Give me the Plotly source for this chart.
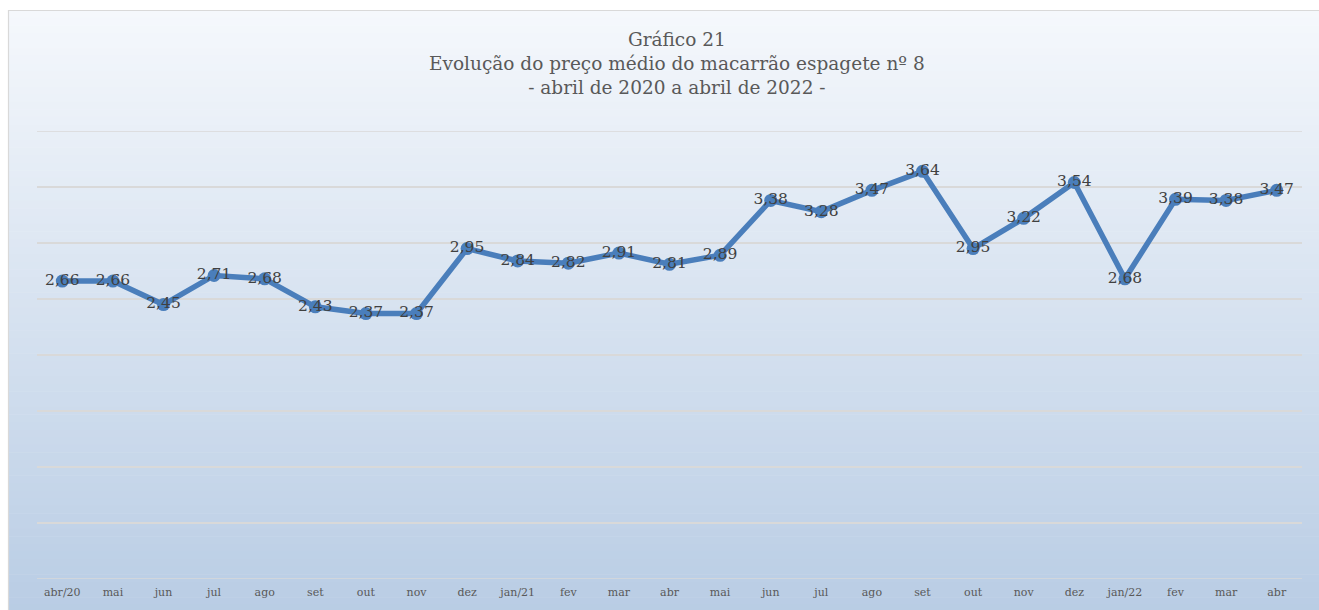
import plotly.graph_objects as go

categories = ["abr/20", "mai", "jun", "jul", "ago", "set", "out", "nov", "dez",
              "jan/21", "fev", "mar", "abr", "mai", "jun", "jul", "ago", "set",
              "out", "nov", "dez", "jan/22", "fev", "mar", "abr"]
prices = [2.66, 2.66, 2.45, 2.71, 2.68, 2.43, 2.37, 2.37, 2.95, 2.84, 2.82, 2.91,
          2.81, 2.89, 3.38, 3.28, 3.47, 3.64, 2.95, 3.22, 3.54, 2.68, 3.39, 3.38, 3.47]
grid_values = [0, 0.5, 1, 1.5, 2, 2.5, 3, 3.5, 4]
title_lines = ["Gráfico 21",
               "Evolução do preço médio do macarrão espagete nº 8",
               "- abril de 2020 a abril de 2022 -"]

OFF = 0  # body margin removed by post_script
W, H = 1319, 610
# plot area in page pixels: x 37..1302, y 131..579
L = 37 - OFF
T = 131 - OFF
R = W - (1302 - OFF)
B = H - (579 - OFF)
pw, ph = W - L - R, H - T - B

def px2x(px):
    return (px - OFF - L) / pw

def py2y(py):
    return (H - B - (py - OFF)) / ph

xs = list(range(len(categories)))
labels = [f"{v:.2f}".replace(".", ",") for v in prices]

fig = go.Figure()
fig.add_trace(go.Scatter(
    x=xs, y=prices, mode="lines+markers+text",
    line=dict(color="#4A7EBB", width=5.5),
    marker=dict(color="#4A7EBB", size=13),
    text=labels, textposition="middle center",
    textfont=dict(family="DejaVu Serif", size=15.5, color="#404040"),
    hoverinfo="skip", cliponaxis=False,
))

shapes = []
top_c = (0xF5, 0xF8, 0xFC)
bot_c = (0xB8, 0xCC, 0xE4)
y0p, y1p = 10, 620
n = 80
for i in range(n):
    a = y0p + (y1p - y0p) * i / n
    b = y0p + (y1p - y0p) * (i + 1) / n + 0.6
    t = (i + 0.5) / n
    c = tuple(round(top_c[k] + (bot_c[k] - top_c[k]) * t) for k in range(3))
    shapes.append(dict(type="rect", xref="paper", yref="paper",
                       x0=px2x(9), x1=px2x(1340), y0=py2y(a), y1=py2y(b),
                       fillcolor="rgb(%d,%d,%d)" % c, line=dict(width=0),
                       layer="below"))
shapes.append(dict(type="rect", xref="paper", yref="paper",
                   x0=px2x(8.5), x1=px2x(1340), y0=py2y(10.5), y1=py2y(630),
                   fillcolor="rgba(0,0,0,0)", line=dict(color="#D9D9D9", width=1.2),
                   layer="below"))
# boundary gridlines (plotly skips grid lines at the range edges)
for gv in (grid_values[0], grid_values[-1]):
    shapes.append(dict(type="line", xref="paper", yref="y", x0=0, x1=1,
                       y0=gv, y1=gv, line=dict(color="#D9D9D9", width=1.5),
                       layer="below"))

fig.update_layout(
    width=W, height=H,
    margin=dict(l=L, r=R, t=T, b=B),
    paper_bgcolor="white", plot_bgcolor="rgba(0,0,0,0)",
    showlegend=False,
    hovermode=False,
    shapes=shapes,
    xaxis=dict(range=[-0.5, len(categories) - 0.5], tickmode="array",
               tickvals=xs, ticktext=categories, showgrid=False,
               zeroline=False, showline=False, ticks="", ticklabelstandoff=5,
               tickfont=dict(family="DejaVu Serif", size=11, color="#595959"),
               fixedrange=True),
    yaxis=dict(range=[grid_values[0], grid_values[-1]], tickmode="array",
               tickvals=grid_values,
               showgrid=True, gridcolor="#D9D9D9",
               gridwidth=1.5, showticklabels=False, zeroline=False,
               showline=False, fixedrange=True),
    annotations=[dict(text="<br>".join(title_lines), xref="paper", yref="paper",
                      x=px2x(677), y=py2y(27.5), xanchor="center", yanchor="top",
                      showarrow=False, align="center",
                      font=dict(family="DejaVu Serif", size=18.5, color="#595959"))],
)

fig.write_html("out.html",
               config={"displayModeBar": False, "staticPlot": True},
               post_script="document.body.style.margin='0';"
                           "document.body.style.overflow='hidden';")
